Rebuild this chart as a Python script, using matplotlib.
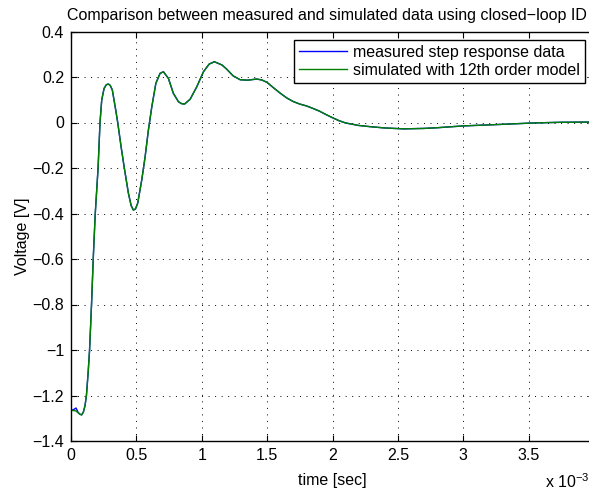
import matplotlib
matplotlib.use("Agg")
import matplotlib.pyplot as plt
from matplotlib.ticker import FuncFormatter

plt.rcParams['font.family'] = ['Liberation Sans', 'DejaVu Sans']
plt.rcParams['mathtext.fontset'] = 'custom'
plt.rcParams['mathtext.rm'] = 'Liberation Sans'
plt.rcParams['lines.scale_dashes'] = False

# time axis in units of 1e-3 s, voltage in V
t_meas = [0.000, 0.020, 0.038, 0.055, 0.070, 0.082, 0.095, 0.107, 0.118, 0.131,
          0.142, 0.157, 0.170, 0.185, 0.207, 0.222, 0.235, 0.253, 0.270, 0.286,
          0.300, 0.316, 0.342, 0.357, 0.383, 0.408, 0.439, 0.460, 0.477, 0.493,
          0.510, 0.541, 0.567, 0.592, 0.618, 0.649, 0.681, 0.707, 0.745, 0.783,
          0.822, 0.845, 0.868, 0.911, 0.962, 1.013, 1.057, 1.097, 1.154, 1.190,
          1.240, 1.294, 1.350, 1.420, 1.460, 1.500, 1.550, 1.600, 1.650, 1.700,
          1.750, 1.800, 1.850, 1.900, 1.950, 2.000, 2.050, 2.100, 2.200, 2.300,
          2.400, 2.545, 2.700, 2.800, 3.000, 3.260, 3.540, 3.750, 4.000]
v_meas = [-1.266, -1.262, -1.255, -1.275, -1.283, -1.285, -1.272, -1.245, -1.200, -1.100,
          -1.000, -0.800, -0.600, -0.405, -0.201, 0.001, 0.099, 0.150, 0.166, 0.169,
          0.163, 0.143, 0.055, 0.001, -0.106, -0.201, -0.311, -0.365, -0.385, -0.380,
          -0.355, -0.253, -0.150, -0.033, 0.069, 0.172, 0.216, 0.223, 0.194, 0.128,
          0.091, 0.083, 0.081, 0.102, 0.157, 0.223, 0.257, 0.267, 0.253, 0.235,
          0.205, 0.188, 0.186, 0.191, 0.187, 0.176, 0.152, 0.129, 0.108, 0.092,
          0.081, 0.073, 0.062, 0.050, 0.035, 0.021, 0.008, -0.002, -0.013, -0.019,
          -0.024, -0.028, -0.026, -0.023, -0.015, -0.009, -0.002, 0.001, 0.002]

t_sim = t_meas
v_sim = [-1.266, -1.266, -1.268, -1.276, -1.283, -1.285, -1.272, -1.245, -1.200, -1.100,
         -1.000, -0.800, -0.600, -0.405, -0.201, 0.001, 0.099, 0.150, 0.166, 0.169,
         0.163, 0.143, 0.055, 0.001, -0.106, -0.201, -0.311, -0.365, -0.385, -0.380,
         -0.355, -0.253, -0.150, -0.033, 0.069, 0.172, 0.216, 0.223, 0.194, 0.128,
         0.091, 0.083, 0.081, 0.102, 0.157, 0.223, 0.257, 0.267, 0.253, 0.235,
         0.205, 0.188, 0.186, 0.191, 0.187, 0.176, 0.152, 0.129, 0.108, 0.092,
         0.081, 0.073, 0.062, 0.050, 0.035, 0.021, 0.008, -0.002, -0.013, -0.019,
         -0.024, -0.028, -0.026, -0.023, -0.015, -0.009, -0.002, 0.001, 0.002]

x_ticks = [0, 0.5, 1, 1.5, 2, 2.5, 3, 3.5, 4]
y_ticks = [0.4, 0.2, 0, -0.2, -0.4, -0.6, -0.8, -1, -1.2, -1.4]

W, H = 589, 493
fs = 11.5
fig = plt.figure(figsize=(W / 100, H / 100), dpi=100)
# axes runs a little past the right edge, like the cropped original
ax = fig.add_axes([71 / W, 1 - 441 / H, (594 - 71) / W, (441 - 31.5) / H])

ax.plot(t_meas, v_meas, color=(0, 0, 1), lw=1.0, label='measured step response data')
ax.plot(t_sim, v_sim, color=(0, 0.5, 0), lw=1.0, label='simulated with 12th order model')

ax.set_xlim(0, 4)
ax.set_ylim(-1.4, 0.4)
ax.set_xticks(x_ticks)
ax.set_yticks(y_ticks)


def matlab_fmt(v, p):
    if v >= 3.99:   # the "4" label falls outside the cropped picture
        return ''
    return ('%g' % round(v, 3)).replace('-', '\u2212')


ax.xaxis.set_major_formatter(FuncFormatter(matlab_fmt))
ax.yaxis.set_major_formatter(FuncFormatter(lambda v, p: ('%g' % round(v, 3)).replace('-', '\u2212')))
ax.tick_params(direction='in', top=True, right=True, length=4, width=0.8,
               labelsize=fs, pad=5)
for s in ax.spines.values():
    s.set_linewidth(1.0)

ax.grid(True, color='black', linestyle=(0, (0.7, 4)), linewidth=0.7)

ax.set_title('Comparison between measured and simulated data using closed\u2212loop ID',
             fontsize=fs, pad=8, x=0.49)
ax.set_xlabel('time [sec]', fontsize=fs, labelpad=7)
ax.set_ylabel('Voltage [V]', fontsize=fs, labelpad=2)

fig.text(545 / W, 1 - 482 / H, 'x 10$^{\u22123}$', fontsize=fs, va='center', ha='left')

leg = ax.legend(loc='upper right', bbox_to_anchor=(585 / W, 1 - 40 / H),
                bbox_transform=fig.transFigure, borderaxespad=0, fontsize=fs,
                fancybox=False, framealpha=1, edgecolor='black',
                handlelength=3.0, handletextpad=0.4, labelspacing=0.2,
                borderpad=0.3)
leg.get_frame().set_linewidth(1.0)

fig.savefig('out.png', dpi=100)
